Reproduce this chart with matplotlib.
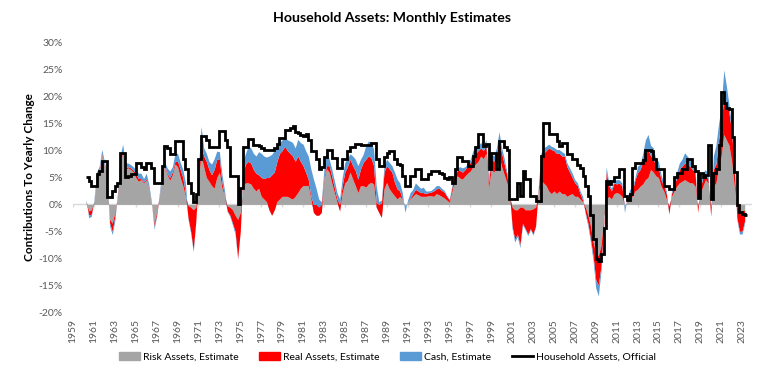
# Household assets: monthly estimates vs official, contributions to yearly change
# values at quarterly steps (in %)

import numpy as np
import matplotlib.pyplot as plt
from matplotlib.patches import Patch
from matplotlib.lines import Line2D

plt.rcParams['font.family'] = ['Lato', 'DejaVu Sans']

start = 1960.25   # first point shown
step = 0.25       # quarterly readings

# contribution of risk assets (grey)
risk = [
    0.5, -1.2, -1.0,                 # 1960
    0.5, 5.0, 6.2, 9.3,              # 1961
    7.0, 4.5, -2.8, -3.5,            # 1962
    -1.5, 1.5, 7.7, 9.6,             # 1963
    6.5, 6.8, 6.5, 6.0,              # 1964
    5.0, 4.3, 4.6, 4.0,              # 1965
    4.5, 2.8, 0.3, -3.5,             # 1966
    -1.5, 1.5, 5.0, 7.1,             # 1967
    5.5, 4.5, 5.5, 7.5,              # 1968
    7.0, 5.0, 3.5, 1.5,              # 1969
    -0.2, -0.5, -1.0, -0.5,          # 1970
    5.0, 9.0, 7.0, 5.0,              # 1971
    4.3, 3.5, 3.0, 5.0,              # 1972
    6.0, 3.0, 1.5, -0.3,             # 1973
    -0.5, -1.0, -2.0, -2.8,          # 1974
    -1.5, 3.5, 4.0, 4.0,             # 1975
    3.8, 3.0, 2.5, 3.0,              # 1976
    1.5, 1.0, 0.5, -1.0,             # 1977
    -2.0, -1.0, 0.5, 1.0,            # 1978
    1.5, 1.5, 1.5, 1.2,              # 1979
    1.0, 1.5, 2.2, 3.0,              # 1980
    3.5, 3.5, 3.5, 1.0,              # 1981
    -1.5, -2.0, -2.0, -1.5,          # 1982
    4.7, 6.6, 6.0, 4.0,              # 1983
    2.2, 0.4, -1.2, 2.2,             # 1984
    4.0, 4.5, 6.0, 4.7,              # 1985
    3.5, 2.2, 3.5, 3.5,              # 1986
    3.2, 3.8, 4.1, 3.8,              # 1987
    -0.5, -1.5, -2.4, 2.9,           # 1988
    4.1, 2.9, 2.2, 1.6,              # 1989
    1.0, 1.5, 0.9, -0.3,             # 1990
    0.3, 1.0, 1.5, 2.0,              # 1991
    1.8, 1.5, 1.5, 1.5,              # 1992
    1.6, 1.6, 1.5, 2.0,              # 1993
    1.8, 1.5, 1.2, 0.8,              # 1994
    0.4, 2.5, 4.5, 5.3,              # 1995
    4.9, 4.7, 5.3, 5.8,              # 1996
    6.2, 7.0, 7.5, 8.0,              # 1997
    9.0, 8.5, 9.5, 3.0,              # 1998
    6.5, 6.0, 7.0, 9.0,              # 1999
    7.0, 5.5, 4.0, 1.5,              # 2000
    -0.5, -1.0, -1.0, -0.5,          # 2001
    -0.5, -1.0, -1.0, -1.0,          # 2002
    -0.8, -0.5, 2.0, 4.5,            # 2003
    4.0, 3.5, 2.5, 2.0,              # 2004
    2.5, 2.0, 2.5, 2.0,              # 2005
    2.0, 1.5, 1.8, 2.0,              # 2006
    1.5, 1.5, 1.0, 0.5,              # 2007
    -0.5, -2.0, -4.0, -7.0,          # 2008
    -9.0, -9.5, -7.7, -3.0,          # 2009
    0.9, 1.5, 1.0, 2.0,              # 2010
    2.2, 2.0, 1.5, -0.3,             # 2011
    0.6, 1.5, 1.5, 2.5,              # 2012
    2.8, 3.4, 3.8, 4.6,              # 2013
    5.0, 6.5, 6.0, 5.3,              # 2014
    5.0, 3.4, 2.5, 1.0,              # 2015
    -0.3, 1.5, 2.5, 3.4,             # 2016
    4.0, 4.3, 4.6, 4.3,              # 2017
    4.0, 4.0, 3.4, -0.3,             # 2018
    2.0, 3.4, 4.6, 4.0,              # 2019
    -0.5, 3.4, 4.0, 7.0,             # 2020
    9.0, 13.0, 12.0, 11.0,           # 2021
    8.0, 3.4, -0.3, -1.0,            # 2022
    -1.5, -1.0,                      # 2023
]

# contribution of real assets (red)
real = [
    0.0, -0.8, -0.8,
    0.0, 0.2, 0.3, 0.2,
    0.2, 0.5, -0.7, -1.5,
    -0.7, 0.3, 0.3, 0.4,
    0.3, 0.2, 0.3, 0.3,
    0.8, 0.5, 0.2, 0.2,
    0.2, 0.2, 0.0, -0.5,
    -0.5, 0.0, 0.3, 0.3,
    0.3, 0.5, 0.5, 0.5,
    1.0, 1.5, 1.5, 0.5,
    -2.3, -4.5, -7.5, -2.5,
    0.5, 2.0, 2.0, 3.0,
    2.2, 2.0, 3.5, 3.4,
    2.5, 1.0, 0.0, -0.9,
    -1.5, -2.5, -3.0, -7.2,
    -3.5, 2.5, 3.5, 4.0,
    3.9, 3.5, 3.3, 2.5,
    3.5, 3.8, 4.5, 6.0,
    7.5, 7.0, 7.5, 8.5,
    8.5, 9.3, 8.5, 8.3,
    8.0, 6.5, 6.8, 5.0,
    3.7, 2.5, 1.2, 0.5,
    1.5, 2.0, 1.5, 1.5,
    0.3, 0.6, 1.2, 1.2,
    0.9, 0.6, 1.2, 1.3,
    2.0, 2.5, 2.4, 2.5,
    2.8, 2.5, 3.1, 4.3,
    5.2, 5.2, 4.6, 3.4,
    0.9, 1.5, 2.7, 3.1,
    3.1, 3.7, 3.8, 2.5,
    1.9, 1.0, 0.1, 0.0,
    0.0, 0.2, 0.5, 0.8,
    0.7, 0.7, 0.7, 0.5,
    0.6, 0.7, 1.0, 0.9,
    1.2, 1.1, 1.1, 0.7,
    0.4, 0.7, 0.8, 1.0,
    1.4, 1.3, 1.2, 1.4,
    1.6, 2.0, 2.0, 2.0,
    1.5, 1.5, 1.5, 1.0,
    2.0, 2.0, 2.5, 3.0,
    2.5, 2.0, 1.5, 0.5,
    -3.5, -5.5, -4.5, -7.0,
    -3.0, -3.5, -4.5, -3.5,
    -4.7, -3.5, 0.5, 4.0,
    5.5, 6.5, 8.0, 8.2,
    7.5, 7.5, 7.0, 7.0,
    7.0, 5.5, 4.2, 3.0,
    2.5, 2.0, 1.0, 0.3,
    -1.0, -1.5, -2.5, -2.6,
    -5.0, -5.5, -3.8, -1.5,
    5.1, 2.0, 1.5, 2.0,
    1.6, 2.0, 1.9, -0.2,
    0.2, 0.7, 1.0, 2.0,
    3.1, 3.1, 4.2, 4.9,
    5.2, 2.5, 2.5, 1.8,
    1.8, 1.2, 1.0, 1.0,
    -1.5, 0.5, 1.0, 1.6,
    2.5, 2.8, 3.1, 3.2,
    3.1, 2.5, 2.6, -1.2,
    1.0, 1.6, 1.3, 0.6,
    -1.7, 3.1, 3.5, 5.0,
    6.0, 7.0, 7.0, 6.0,
    5.5, 3.6, -2.2, -4.0,
    -3.5, -2.0,
]

# contribution of cash (blue)
cash = [
    0.5, -0.5, -0.4,
    0.3, 0.8, 0.6, 0.7,
    0.8, 0.5, -0.5, -0.6,
    -0.8, 0.2, 1.0, 1.2,
    0.9, 0.7, 0.6, 0.7,
    0.7, 1.0, 1.0, 0.6,
    1.1, 0.7, 0.2, -0.6,
    -0.2, 0.5, 0.7, 0.6,
    1.0, 1.2, 1.0, 1.5,
    1.5, 1.3, 1.5, 2.0,
    -0.2, -0.3, -0.3, -0.2,
    1.5, 3.5, 1.5, 1.5,
    1.5, 2.0, 2.0, 1.5,
    1.3, 1.5, 1.0, -0.1,
    -0.2, -0.3, -0.5, -0.2,
    0.0, 2.0, 2.0, 2.8,
    2.8, 3.0, 3.2, 4.3,
    4.5, 4.2, 3.8, 4.0,
    3.8, 4.0, 3.0, 2.0,
    2.0, 1.7, 2.0, 2.3,
    2.5, 2.5, 3.1, 3.5,
    4.0, 4.0, 4.3, 5.1,
    4.7, 3.0, 1.5, 0.5,
    1.6, 3.4, 1.2, 1.4,
    1.3, 1.2, 1.0, 1.5,
    1.8, 1.6, 1.0, 1.8,
    2.1, 2.5, 1.8, 1.5,
    2.5, 2.8, 2.8, 3.1,
    3.1, 0.5, 0.5, 1.2,
    1.2, 1.2, 1.2, 1.9,
    1.8, 1.5, 1.2, -1.2,
    0.5, 1.0, 0.8, 1.2,
    1.0, 0.8, 1.0, 0.5,
    0.3, 0.3, 0.5, 0.6,
    0.5, 0.4, 0.3, 0.2,
    0.2, 0.4, 0.7, 0.5,
    0.7, 0.8, 0.5, 0.4,
    0.6, 1.0, 1.0, 1.0,
    1.0, 1.0, 1.0, 1.0,
    1.0, 1.0, 1.0, 1.5,
    1.0, 1.0, 0.5, 0.5,
    -0.5, -0.5, -0.5, -0.5,
    -0.3, -0.2, -0.3, -0.2,
    -0.2, -0.2, 0.5, 1.0,
    1.0, 0.8, 0.7, 0.6,
    0.6, 0.7, 0.7, 0.8,
    0.5, 0.7, 0.8, 0.8,
    0.6, 0.5, 0.5, 0.7,
    -0.3, -0.5, -0.5, -0.9,
    -1.5, -2.0, -1.0, -0.5,
    1.0, 0.5, 0.5, 0.5,
    0.8, 0.6, 0.6, -1.0,
    0.4, 0.6, 0.6, 0.5,
    1.2, 1.0, 1.5, 2.5,
    2.8, 2.0, 2.0, 1.3,
    1.2, 0.9, 0.5, 0.5,
    0.0, 0.5, 0.5, 1.0,
    1.2, 1.3, 1.9, 1.5,
    1.3, 1.2, 1.0, 0.0,
    0.4, 0.9, 0.6, 0.7,
    0.0, 2.5, 3.5, 3.0,
    3.0, 5.0, 3.0, 1.5,
    1.0, 0.5, -0.3, -0.5,
    -0.5, -0.4,
]

# official household assets, yearly change (quarterly steps)
household = [
    5.0, 4.3, 3.4,
    3.5, 5.6, 6.3, 8.0,
    8.0, 1.4, 1.4, 2.5,
    3.5, 4.0, 9.6, 9.6,
    5.1, 5.3, 5.6, 5.6,
    7.7, 7.7, 7.0, 6.5,
    7.7, 7.7, 6.8, 4.0,
    4.0, 4.0, 7.1, 10.9,
    10.5, 9.3, 9.3, 11.8,
    11.8, 11.8, 8.5, 6.5,
    4.0, 2.2, 0.5, 2.0,
    8.5, 12.7, 12.7, 12.0,
    10.7, 10.7, 10.7, 10.6,
    13.6, 13.6, 12.0, 10.7,
    5.3, 5.3, 5.3, 0.0,
    3.0, 10.7, 10.7, 12.1,
    12.1, 11.0, 11.0, 10.8,
    10.5, 10.2, 10.2, 10.2,
    10.2, 10.5, 11.2, 12.4,
    12.4, 13.8, 13.8, 14.2,
    14.6, 13.4, 13.3, 12.9,
    12.7, 13.0, 12.0, 9.9,
    9.9, 8.4, 6.5, 7.0,
    8.9, 10.2, 10.2, 8.7,
    8.7, 6.8, 6.8, 8.4,
    8.4, 9.9, 10.6, 10.6,
    11.2, 11.2, 11.0, 11.0,
    11.0, 11.0, 11.5, 11.5,
    8.4, 7.1, 7.1, 8.9,
    9.5, 9.9, 9.9, 8.5,
    7.5, 7.3, 5.3, 3.4,
    3.4, 5.3, 5.3, 6.5,
    6.5, 4.7, 4.7, 4.7,
    5.6, 6.2, 6.2, 6.3,
    5.8, 5.6, 4.9, 4.7,
    5.0, 4.0, 6.5, 8.8,
    8.8, 8.0, 8.0, 7.1,
    7.1, 9.0, 10.6, 13.0,
    13.0, 10.9, 11.2, 6.5,
    9.6, 9.6, 6.5, 11.8,
    11.8, 10.6, 10.2, 1.0,
    1.0, 1.0, 4.0, 1.5,
    6.2, 4.7, 4.7, 1.5,
    1.5, 0.6, 0.6, 9.0,
    15.2, 15.2, 13.0, 13.0,
    13.0, 11.8, 10.9, 11.5,
    11.5, 9.3, 9.3, 8.4,
    8.4, 7.4, 6.8, 5.3,
    3.4, 1.5, -2.0, -6.5,
    -10.2, -10.5, -9.3, -4.3,
    4.3, 3.7, 4.3, 5.0,
    5.0, 6.5, 6.5, 1.5,
    0.9, 2.0, 6.8, 7.7,
    7.7, 7.7, 8.3, 10.2,
    10.2, 9.9, 8.4, 6.5,
    6.5, 6.5, 3.4, 3.4,
    2.8, 2.8, 5.0, 5.9,
    5.9, 6.5, 6.5, 8.4,
    8.4, 7.1, 6.2, 1.2,
    5.9, 5.0, 5.5, 11.0,
    1.0, 5.8, 6.5, 11.0,
    20.8, 18.9, 18.0, 17.7,
    12.5, 6.0, -0.2, -1.5,
    -1.8, -1.9,
]

year_ticks = list(range(1959, 2024, 2))
y_ticks = list(range(-20, 31, 5))

assert len(risk) == len(real) == len(cash) == len(household), \
    (len(risk), len(real), len(cash), len(household))

t = start + step * np.arange(len(risk))
lvl1 = np.array(risk)
lvl2 = lvl1 + np.array(real)
lvl3 = lvl2 + np.array(cash)

fig = plt.figure(figsize=(7.75, 3.74), dpi=100)
ax = fig.add_axes([72.5/775, 62/374, (752-72.5)/775, (312-43)/374])

grey, red, blue = '#a5a5a5', '#ff0000', '#5b9bd5'

ax.axhline(0, color='#d9d9d9', lw=1, zorder=0)
ax.vlines(year_ticks, -0.55, 0, color='#d9d9d9', lw=1, zorder=0)

ax.fill_between(t, 0, lvl1, color=grey, lw=0, zorder=1)
ax.fill_between(t, lvl1, lvl2, color=red, lw=0, zorder=2)
ax.fill_between(t, lvl2, lvl3, color=blue, lw=0, zorder=3)

edges = np.append(t, t[-1] + step)
ax.stairs(household, edges, baseline=None, color='black', lw=2, zorder=4)

ax.set_xlim(1958.95, 2023.95)
ax.set_ylim(-20, 30)
ax.set_xticks(year_ticks)
ax.set_xticklabels([str(y) for y in year_ticks], rotation=90)
ax.set_yticks(y_ticks)
ax.set_yticklabels([f'{v}%' for v in y_ticks])
ax.tick_params(length=0, labelsize=7.5, colors='#595959')
ax.tick_params(axis='y', pad=7)
ax.tick_params(axis='x', pad=5)
for s in ax.spines.values():
    s.set_visible(False)

fig.text(392/775, 1 - 18/374, 'Household Assets: Monthly Estimates',
         ha='center', va='center', fontsize=10.2, fontweight='bold')
fig.text(30/775, 1 - 177/374, 'Contributions To Yearly Change',
         ha='center', va='center', rotation=90, fontsize=8.5, fontweight='bold')

handles = [Patch(color=grey), Patch(color=red), Patch(color=blue),
           Line2D([], [], color='black', lw=2)]
labels = ['Risk Assets, Estimate', 'Real Assets, Estimate',
          'Cash, Estimate', 'Household Assets, Official']
fig.legend(handles, labels, loc='center', bbox_to_anchor=(0.5, 1 - 357/374),
           ncol=4, frameon=False, fontsize=7.5, handlelength=2.0,
           handleheight=0.7, handletextpad=0.3, columnspacing=2.0)

fig.savefig('out.png', dpi=100)
